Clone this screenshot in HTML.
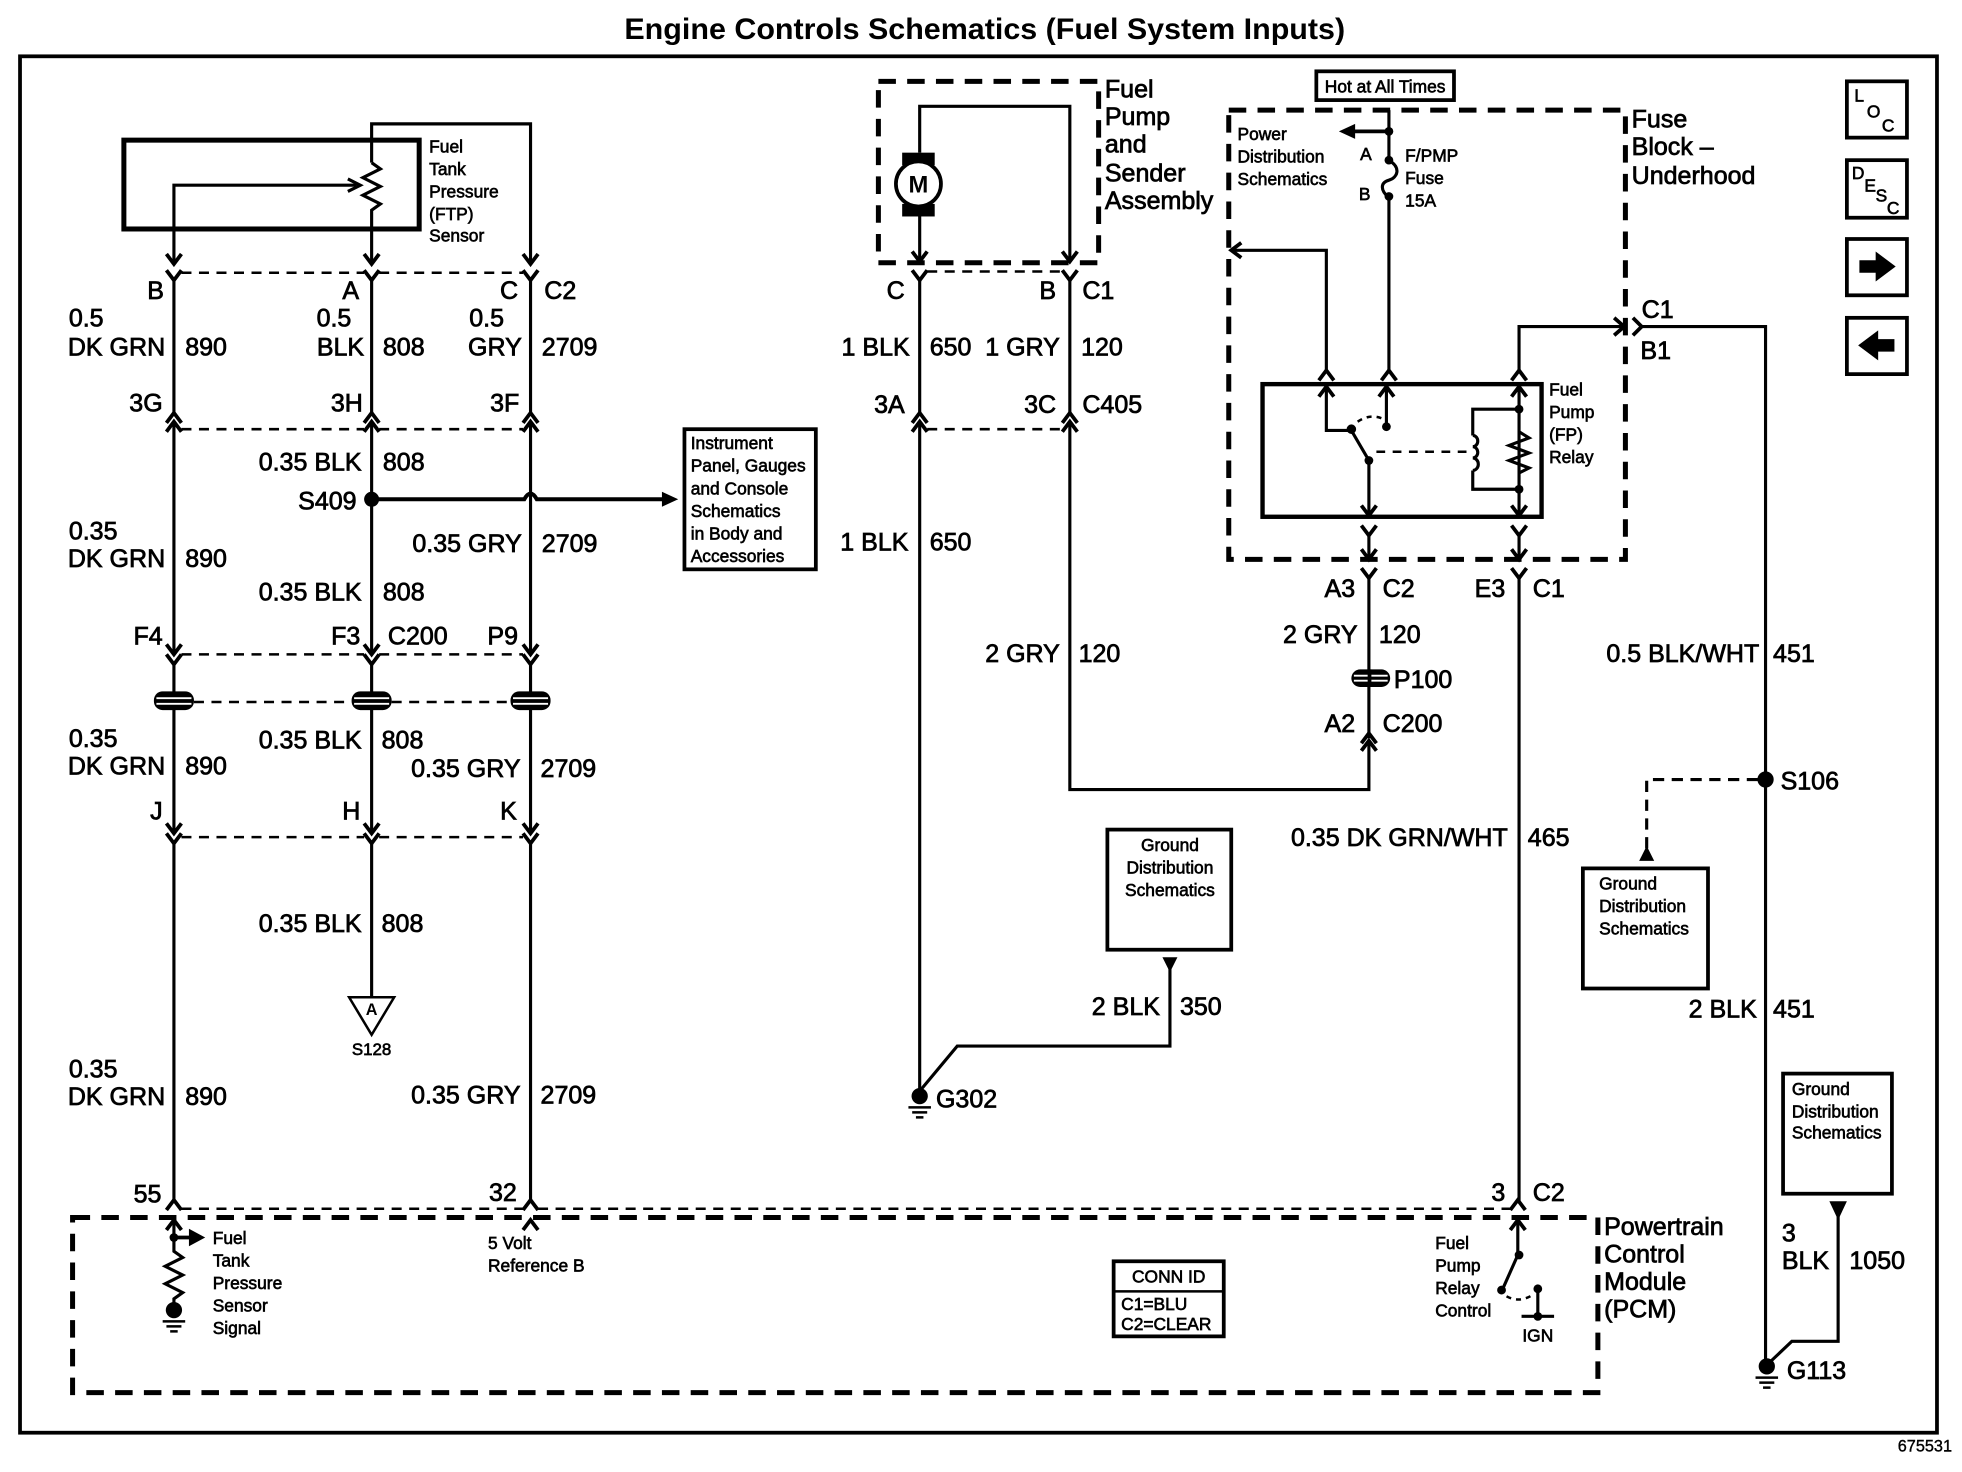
<!DOCTYPE html>
<html><head><meta charset="utf-8"><title>Engine Controls Schematics</title>
<style>
html,body{margin:0;padding:0;background:#fff}
svg{display:block}
text{font-family:"Liberation Sans",sans-serif;fill:#000}
.t{font-size:20px;stroke:#000;stroke-width:.6}
.r{font-size:20px;stroke:#000;stroke-width:.6;text-anchor:end}
.s{font-size:13.9px;stroke:#000;stroke-width:.5}
.c{font-size:13.9px;stroke:#000;stroke-width:.5;text-anchor:middle}
.w{fill:none;stroke:#000;stroke-width:2.5}
.h{fill:none;stroke:#000;stroke-width:4}
.d{fill:none;stroke:#000;stroke-width:2;stroke-dasharray:8 6}
.D{fill:none;stroke:#000;stroke-width:4;stroke-dasharray:14 9}
</style></head><body>
<svg xmlns="http://www.w3.org/2000/svg" width="1962" height="1472" viewBox="0 0 1568 1176.4">
<defs>
<path id="dn" d="M-6,-8L0,0L6,-8" fill="none" stroke="#000" stroke-width="3"/>
<path id="up" d="M-6,8L0,0L6,8" fill="none" stroke="#000" stroke-width="3"/>
<g id="tape"><rect x="-16" y="-7.5" width="32" height="15" rx="7" fill="#000"/><path d="M-14,-2H14M-14,2.5H14" stroke="#fff" stroke-width="1.5"/></g>
<g id="gnd"><circle cx="0" cy="0" r="6.5" fill="#000"/><path d="M-9,9H9M-6,13H6M-3,17H3" stroke="#000" stroke-width="2"/></g>
</defs>
<rect width="1568" height="1177" fill="#fff"/>
<rect x="16" y="45" width="1532" height="1100" fill="none" stroke="#000" stroke-width="3"/>
<text x="787" y="31" text-anchor="middle" font-size="23.5" font-weight="bold" textLength="576" lengthAdjust="spacingAndGlyphs">Engine Controls Schematics (Fuel System Inputs)</text>
<text x="1560" y="1160" text-anchor="end" font-size="13" stroke="#000" stroke-width=".3">675531</text>

<!-- FTP sensor -->
<rect class="h" x="99" y="112" width="236" height="71"/>
<path class="w" d="M297,130V99H424V210"/>
<path class="w" d="M297,130L304,135L290,142L304,149L290,156L304,163L297,168V210"/>
<path class="w" d="M139,210V148H285"/>
<path d="M278,143L288,148L278,153" fill="none" stroke="#000" stroke-width="2.5"/>
<use href="#dn" x="139" y="211"/><use href="#dn" x="297" y="211"/><use href="#dn" x="424" y="211"/>
<text class="s" x="343" y="122">Fuel</text><text class="s" x="343" y="140">Tank</text><text class="s" x="343" y="158">Pressure</text><text class="s" x="343" y="176">(FTP)</text><text class="s" x="343" y="193">Sensor</text>

<!-- left wires -->
<path class="w" d="M139,224V331M297,224V331M424,224V331M139,337V521M297,337V521M424,337V521M139,531V664M297,531V664M424,531V664M139,674V960M297,674V797M424,674V960"/>
<path class="d" d="M145,218H291M303,218H418M145,343H291M303,343H418M145,523H291M303,523H418M155,561H281M313,561H409M145,669H291M303,669H418"/>
<g>
<use href="#dn" x="139" y="224"/><use href="#dn" x="297" y="224"/><use href="#dn" x="424" y="224"/>
<use href="#up" x="139" y="330"/><use href="#up" x="297" y="330"/><use href="#up" x="424" y="330"/>
<use href="#up" x="139" y="337"/><use href="#up" x="297" y="337"/><use href="#up" x="424" y="337"/>
<use href="#dn" x="139" y="523"/><use href="#dn" x="297" y="523"/><use href="#dn" x="424" y="523"/>
<use href="#dn" x="139" y="531"/><use href="#dn" x="297" y="531"/><use href="#dn" x="424" y="531"/>
<use href="#dn" x="139" y="666"/><use href="#dn" x="297" y="666"/><use href="#dn" x="424" y="666"/>
<use href="#dn" x="139" y="674"/><use href="#dn" x="297" y="674"/><use href="#dn" x="424" y="674"/>
<use href="#tape" x="139" y="560"/><use href="#tape" x="297" y="560"/><use href="#tape" x="424" y="560"/>
</g>
<text class="r" x="131" y="239">B</text><text class="r" x="287" y="239">A</text><text class="r" x="414" y="239">C</text><text class="t" x="435" y="239">C2</text>
<text class="t" x="55" y="261">0.5</text><text class="t" x="253" y="261">0.5</text><text class="t" x="375" y="261">0.5</text>
<text class="r" x="132" y="284">DK GRN</text><text class="t" x="148" y="284">890</text><text class="r" x="291" y="284">BLK</text><text class="t" x="306" y="284">808</text><text class="r" x="417" y="284">GRY</text><text class="t" x="433" y="284">2709</text>
<text class="r" x="130" y="329">3G</text><text class="r" x="290" y="329">3H</text><text class="r" x="415" y="329">3F</text>
<text class="r" x="289" y="376">0.35 BLK</text><text class="t" x="306" y="376">808</text>
<text class="r" x="285" y="407">S409</text>
<circle cx="297" cy="399" r="6" fill="#000"/>
<path d="M297,399H419Q424,390 429,399H530" fill="none" stroke="#000" stroke-width="3.2"/>
<path d="M529,393L542,399L529,405Z" fill="#000"/>
<rect x="547" y="343" width="105" height="112" fill="none" stroke="#000" stroke-width="3"/>
<text class="s" x="552" y="359">Instrument</text><text class="s" x="552" y="377">Panel, Gauges</text><text class="s" x="552" y="395">and Console</text><text class="s" x="552" y="413">Schematics</text><text class="s" x="552" y="431">in Body and</text><text class="s" x="552" y="449">Accessories</text>
<text class="t" x="55" y="431">0.35</text><text class="r" x="132" y="453">DK GRN</text><text class="t" x="148" y="453">890</text>
<text class="r" x="417" y="441">0.35 GRY</text><text class="t" x="433" y="441">2709</text>
<text class="r" x="289" y="480">0.35 BLK</text><text class="t" x="306" y="480">808</text>
<text class="r" x="130" y="515">F4</text><text class="r" x="288" y="515">F3</text><text class="t" x="310" y="515">C200</text><text class="r" x="414" y="515">P9</text>
<text class="t" x="55" y="597">0.35</text><text class="r" x="132" y="619">DK GRN</text><text class="t" x="148" y="619">890</text>
<text class="r" x="289" y="598">0.35 BLK</text><text class="t" x="305" y="598">808</text>
<text class="r" x="416" y="621">0.35 GRY</text><text class="t" x="432" y="621">2709</text>
<text class="r" x="130" y="655">J</text><text class="r" x="288" y="655">H</text><text class="r" x="413" y="655">K</text>
<text class="r" x="289" y="745">0.35 BLK</text><text class="t" x="305" y="745">808</text>
<path d="M279,797H315L297,827Z" fill="none" stroke="#000" stroke-width="2"/>
<text x="297" y="811" text-anchor="middle" font-size="13" font-weight="bold">A</text>
<text x="297" y="843" text-anchor="middle" font-size="13.5" stroke="#000" stroke-width=".5">S128</text>
<text class="t" x="55" y="861">0.35</text><text class="r" x="132" y="883">DK GRN</text><text class="t" x="148" y="883">890</text>
<text class="r" x="416" y="882">0.35 GRY</text><text class="t" x="432" y="882">2709</text>
<text class="r" x="129" y="961">55</text><text class="r" x="413" y="960">32</text>

<!-- PCM -->
<path class="d" d="M145,966H418M430,966H1207"/>
<use href="#up" x="139" y="959"/><use href="#up" x="424" y="959"/><use href="#up" x="1213" y="959"/>
<rect class="D" x="58" y="973" width="1219" height="140"/>
<use href="#up" x="139" y="975"/><use href="#up" x="424" y="975"/><use href="#up" x="1213" y="975"/>
<path class="w" d="M139,976V1000L146,1005L132,1012L146,1019L132,1026L146,1033L139,1038V1045"/>
<circle cx="139" cy="989" r="3.5" fill="#000"/>
<path d="M139,989H153" stroke="#000" stroke-width="3"/><path d="M151,982L164,989L151,996Z" fill="#000"/>
<use href="#gnd" x="139" y="1047"/>
<text class="s" x="170" y="994">Fuel</text><text class="s" x="170" y="1012">Tank</text><text class="s" x="170" y="1030">Pressure</text><text class="s" x="170" y="1048">Sensor</text><text class="s" x="170" y="1066">Signal</text>
<text class="s" x="390" y="998">5 Volt</text><text class="s" x="390" y="1016">Reference B</text>
<rect x="890" y="1008" width="88" height="60" fill="none" stroke="#000" stroke-width="3"/><path d="M890,1032H978" stroke="#000" stroke-width="2"/>
<text class="c" x="934" y="1025">CONN ID</text><text class="s" x="896" y="1047">C1=BLU</text><text class="s" x="896" y="1063">C2=CLEAR</text>
<path class="w" d="M1213,976V1003L1201,1030"/>
<circle cx="1214" cy="1003" r="3.5" fill="#000"/><circle cx="1200" cy="1031" r="3.5" fill="#000"/><circle cx="1229" cy="1030" r="3.5" fill="#000"/><circle cx="1229" cy="1052" r="3.5" fill="#000"/>
<path class="w" d="M1229,1030V1052M1216,1052H1242"/>
<path d="M1204,1036Q1215,1042 1226,1034" fill="none" stroke="#000" stroke-width="2" stroke-dasharray="4 4"/>
<text class="s" x="1147" y="998">Fuel</text><text class="s" x="1147" y="1016">Pump</text><text class="s" x="1147" y="1034">Relay</text><text class="s" x="1147" y="1052">Control</text>
<text class="c" x="1229" y="1072">IGN</text>
<text class="t" x="1282" y="987">Powertrain</text><text class="t" x="1282" y="1009">Control</text><text class="t" x="1282" y="1031">Module</text><text class="t" x="1282" y="1053">(PCM)</text>

<!-- Fuel pump -->
<rect class="D" x="702" y="65" width="176" height="145"/>
<text class="t" x="883" y="78">Fuel</text><text class="t" x="883" y="100">Pump</text><text class="t" x="883" y="122">and</text><text class="t" x="883" y="145">Sender</text><text class="t" x="883" y="167">Assembly</text>
<path class="w" d="M735,122V85H855V208M735,172V208"/>
<rect x="721" y="122" width="26" height="10" fill="#000"/><rect x="721" y="163" width="26" height="10" fill="#000"/>
<circle cx="734" cy="147" r="18" fill="#fff" stroke="#000" stroke-width="3"/>
<text x="734" y="154" text-anchor="middle" font-size="19" font-weight="bold">M</text>
<use href="#dn" x="735" y="209"/><use href="#dn" x="855" y="209"/><use href="#dn" x="735" y="224"/><use href="#dn" x="855" y="224"/>
<path class="d" d="M741,217H849M741,343H849"/>
<path class="w" d="M735,224V331M855,224V331M735,337V870M855,337V631H1094V592"/>
<use href="#up" x="735" y="330"/><use href="#up" x="855" y="330"/><use href="#up" x="735" y="337"/><use href="#up" x="855" y="337"/>
<text class="r" x="723" y="239">C</text><text class="r" x="844" y="239">B</text><text class="t" x="865" y="239">C1</text>
<text class="r" x="727" y="284">1 BLK</text><text class="t" x="743" y="284">650</text><text class="r" x="847" y="284">1 GRY</text><text class="t" x="864" y="284">120</text>
<text class="r" x="723" y="330">3A</text><text class="r" x="844" y="330">3C</text><text class="t" x="865" y="330">C405</text>
<text class="r" x="726" y="440">1 BLK</text><text class="t" x="743" y="440">650</text>
<text class="r" x="847" y="529">2 GRY</text><text class="t" x="862" y="529">120</text>
<rect x="885" y="663" width="99" height="96" fill="none" stroke="#000" stroke-width="3"/>
<text class="c" x="935" y="680">Ground</text><text class="c" x="935" y="698">Distribution</text><text class="c" x="935" y="716">Schematics</text>
<path d="M929,765H941L935,777Z" fill="#000"/>
<path class="w" d="M935,770V836H765L735,872"/>
<text class="r" x="927" y="811">2 BLK</text><text class="t" x="943" y="811">350</text>
<use href="#gnd" x="735" y="876"/><text class="t" x="748" y="885">G302</text>

<!-- Fuse block -->
<rect class="D" x="982" y="88" width="317" height="359"/>
<rect x="1052" y="57" width="110" height="23" fill="none" stroke="#000" stroke-width="3"/>
<text class="c" x="1107" y="74">Hot at All Times</text>
<text class="t" x="1304" y="102">Fuse</text><text class="t" x="1304" y="124">Block –</text><text class="t" x="1304" y="147">Underhood</text>
<text class="s" x="989" y="112">Power</text><text class="s" x="989" y="130">Distribution</text><text class="s" x="989" y="148">Schematics</text>
<path class="w" d="M1110,88V128C1120,134 1117,142 1110,144C1103,146 1103,152 1110,158V297"/>
<circle cx="1110" cy="105" r="3.5" fill="#000"/><circle cx="1110" cy="128" r="3.5" fill="#000"/><circle cx="1110" cy="157" r="3.5" fill="#000"/>
<path d="M1110,105H1082" stroke="#000" stroke-width="3"/><path d="M1083,99L1070,105L1083,111Z" fill="#000"/>
<text class="s" x="1087" y="128">A</text><text class="s" x="1086" y="160">B</text>
<text class="s" x="1123" y="129">F/PMP</text><text class="s" x="1123" y="147">Fuse</text><text class="s" x="1123" y="165">15A</text>
<path class="w" d="M984,200H1060V296M1214,296V261H1297"/>
<path d="M992,194L984,200L992,206" fill="none" stroke="#000" stroke-width="3"/>
<path d="M1290,254L1298,261L1290,268" fill="none" stroke="#000" stroke-width="3"/>
<path d="M1305,254L1312,261L1305,268" fill="none" stroke="#000" stroke-width="3"/>
<path class="w" d="M1312,261H1411V1090"/>
<text class="t" x="1312" y="254">C1</text><text class="t" x="1311" y="287">B1</text>
<use href="#up" x="1060" y="296"/><use href="#up" x="1110" y="296"/><use href="#up" x="1214" y="296"/>
<rect x="1009" y="307" width="223" height="106" fill="none" stroke="#000" stroke-width="3.5"/>
<use href="#up" x="1060" y="309"/><use href="#up" x="1108" y="309"/><use href="#up" x="1214" y="309"/>
<path class="w" d="M1060,310V344H1080L1094,368V411M1108,310V341M1214,310V411M1214,327H1177V348M1177,376V391H1214"/>
<circle cx="1080" cy="343" r="3.8" fill="#000"/><circle cx="1108" cy="341" r="3.5" fill="#000"/><circle cx="1094" cy="368" r="3.5" fill="#000"/><circle cx="1214" cy="327" r="3.5" fill="#000"/><circle cx="1214" cy="391" r="3.5" fill="#000"/>
<path d="M1085,337Q1095,330 1106,335" fill="none" stroke="#000" stroke-width="2" stroke-dasharray="4 4"/>
<path d="M1100,361H1172" fill="none" stroke="#000" stroke-width="2" stroke-dasharray="7 6"/>
<path class="w" d="M1177,348a4,4.5 0 0 1 0,9a4,4.5 0 0 1 0,9a4,4.5 0 0 1 0,10"/>
<path class="w" d="M1214,345L1222,350L1206,356L1222,362L1206,368L1222,374L1214,378"/>
<use href="#dn" x="1094" y="412"/><use href="#dn" x="1214" y="412"/>
<text class="s" x="1238" y="316">Fuel</text><text class="s" x="1238" y="334">Pump</text><text class="s" x="1238" y="352">(FP)</text><text class="s" x="1238" y="370">Relay</text>
<use href="#dn" x="1094" y="428"/><use href="#dn" x="1214" y="428"/>
<use href="#dn" x="1094" y="447"/><use href="#dn" x="1214" y="447"/>
<use href="#dn" x="1094" y="462"/><use href="#dn" x="1214" y="462"/>
<path class="w" d="M1094,428V447M1214,428V447M1094,462V590M1214,462V960"/>
<text class="r" x="1083" y="477">A3</text><text class="t" x="1105" y="477">C2</text><text class="r" x="1203" y="477">E3</text><text class="t" x="1225" y="477">C1</text>
<text class="r" x="1085" y="514">2 GRY</text><text class="t" x="1102" y="514">120</text>
<rect x="1080" y="535" width="31" height="14" rx="7" fill="#000"/><path d="M1082,540H1109M1082,544H1109" stroke="#fff" stroke-width="1.5"/><path d="M1094.5,535V549" stroke="#000" stroke-width="3"/>
<text class="t" x="1114" y="550">P100</text>
<text class="r" x="1083" y="585">A2</text><text class="t" x="1105" y="585">C200</text>
<use href="#up" x="1094" y="586"/><use href="#up" x="1094" y="592"/>
<text class="r" x="1205" y="676">0.35 DK GRN/WHT</text><text class="t" x="1221" y="676">465</text>
<text class="r" x="1203" y="960">3</text><text class="t" x="1225" y="960">C2</text>

<!-- right -->
<text class="r" x="1406" y="529">0.5 BLK/WHT</text><text class="t" x="1417" y="529">451</text>
<circle cx="1411" cy="623" r="6.5" fill="#000"/><text class="t" x="1423" y="631">S106</text>
<path d="M1405,623H1316V680" fill="none" stroke="#000" stroke-width="2.5" stroke-dasharray="9 6"/>
<path d="M1310,688L1316,676L1322,688Z" fill="#000"/>
<rect x="1265" y="694" width="100" height="96" fill="none" stroke="#000" stroke-width="3"/>
<text class="s" x="1278" y="711">Ground</text><text class="s" x="1278" y="729">Distribution</text><text class="s" x="1278" y="747">Schematics</text>
<text class="r" x="1404" y="813">2 BLK</text><text class="t" x="1417" y="813">451</text>
<rect x="1425" y="858" width="87" height="96" fill="none" stroke="#000" stroke-width="3"/>
<text class="s" x="1432" y="875">Ground</text><text class="s" x="1432" y="893">Distribution</text><text class="s" x="1432" y="910">Schematics</text>
<path d="M1462,960H1476L1469,975Z" fill="#000"/>
<path class="w" d="M1469,972V1072H1432L1413,1090"/>
<text class="t" x="1424" y="992">3</text><text class="t" x="1424" y="1014">BLK</text><text class="t" x="1478" y="1014">1050</text>
<use href="#gnd" x="1412" y="1092"/><text class="t" x="1428" y="1102">G113</text>

<!-- icons -->
<g fill="none" stroke="#000" stroke-width="3">
<rect x="1476" y="65" width="48" height="45"/><rect x="1476" y="128" width="48" height="46"/><rect x="1476" y="191" width="48" height="45"/><rect x="1476" y="254" width="48" height="45"/>
</g>
<text class="s" x="1482" y="81">L</text><text class="s" x="1492" y="94">O</text><text class="s" x="1504" y="105">C</text>
<text class="s" x="1480" y="143">D</text><text class="s" x="1490" y="153">E</text><text class="s" x="1499" y="161">S</text><text class="s" x="1508" y="171">C</text>
<path d="M1486,208H1499V201L1515,213L1499,225V218H1486Z" fill="#000"/>
<path d="M1514,271H1501V264L1485,276L1501,288V281H1514Z" fill="#000"/>
</svg>
</body></html>
